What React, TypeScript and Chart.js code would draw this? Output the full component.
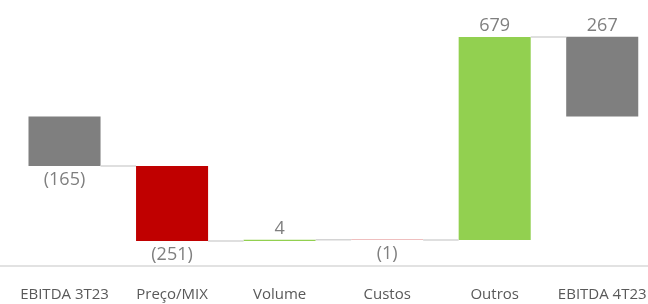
import React, { useEffect, useRef } from "react";
import { Chart, registerables } from "chart.js";

Chart.register(...registerables);

const categories = ["EBITDA 3T23", "Preço/MIX", "Volume", "Custos", "Outros", "EBITDA 4T23"];
const deltas = [-165, -251, 4, -1, 679, 267];
const isTotal = [true, false, false, false, false, true];

const GRAY = "#7f7f7f";
const GREEN = "#92d050";
const RED = "#c00000";

function fmt(v: number) {
  return v < 0 ? `(${Math.abs(v)})` : `${v}`;
}

function buildRanges() {
  const out: [number, number][] = [];
  let level = 0;
  deltas.forEach((v, i) => {
    if (isTotal[i]) {
      out.push([0, v]);
      level = v;
    } else {
      out.push([level, level + v]);
      level += v;
    }
  });
  return out;
}

const waterfallPlugin = {
  id: "waterfallExtras",
  afterDatasetsDraw(chart: any) {
    const ctx = chart.ctx;
    const ys = chart.scales.y;
    const meta = chart.getDatasetMeta(0);
    const ranges = chart.data.datasets[0].data as [number, number][];
    ctx.save();
    // connectors
    ctx.strokeStyle = "#d4d4d4";
    ctx.lineWidth = 1.5;
    for (let i = 0; i < meta.data.length - 1; i++) {
      const a = meta.data[i];
      const b = meta.data[i + 1];
      const y = ys.getPixelForValue(ranges[i][1]);
      ctx.beginPath();
      ctx.moveTo(a.x + a.width / 2, y);
      ctx.lineTo(b.x - b.width / 2, y);
      ctx.stroke();
    }
    // labels
    ctx.fillStyle = "#7f7f7f";
    ctx.font = "18px 'Open Sans'";
    ctx.textAlign = "center";
    ctx.textBaseline = "alphabetic";
    meta.data.forEach((el: any, i: number) => {
      const v = deltas[i];
      const r = ranges[i];
      if (v >= 0) {
        const y = ys.getPixelForValue(Math.max(r[0], r[1]));
        ctx.fillText(fmt(v), el.x, y - 6);
      } else {
        const y = ys.getPixelForValue(Math.min(r[0], r[1]));
        ctx.fillText(fmt(v), el.x, y + 19.5);
      }
    });
    // full-width axis line
    ctx.strokeStyle = "#d9d9d9";
    ctx.lineWidth = 1.5;
    const yb = chart.chartArea.bottom;
    ctx.beginPath();
    ctx.moveTo(0, yb);
    ctx.lineTo(chart.width, yb);
    ctx.stroke();
    ctx.restore();
  },
};

export default function App() {
  const ref = useRef<HTMLCanvasElement | null>(null);
  useEffect(() => {
    if (!ref.current) return;
    const ranges = buildRanges();
    const colors = deltas.map((v, i) => (isTotal[i] ? GRAY : v >= 0 ? GREEN : RED));
    const chart = new Chart(ref.current, {
      type: "bar",
      data: {
        labels: categories,
        datasets: [
          {
            data: ranges as any,
            backgroundColor: colors,
            borderWidth: 0,
            barPercentage: 0.67,
            categoryPercentage: 1,
          },
        ],
      },
      options: {
        animation: false,
        responsive: false,
        devicePixelRatio: 1,
        layout: { padding: { left: 10.75, right: 0, top: 0, bottom: 0 } },
        plugins: { legend: { display: false }, tooltip: { enabled: false } },
        scales: {
          x: {
            grid: { display: false, drawTicks: true, tickLength: 20 },
            border: { display: false },
            ticks: {
              color: "#595959",
              font: { family: "'Open Sans'", size: 15 },
              padding: 0,
              maxRotation: 0,
              autoSkip: false,
            },
          },
          y: {
            display: false,
            min: -500,
            max: 390,
          },
        },
      },
      plugins: [waterfallPlugin],
    });
    return () => chart.destroy();
  }, []);
  return (
    <div
      style={{
        position: "fixed",
        left: 0,
        top: 0,
        width: 648,
        height: 304,
        overflow: "hidden",
        background: "#fff",
      }}
    >
      <canvas ref={ref} width={656} height={304} style={{ display: "block" }} />
    </div>
  );
}
